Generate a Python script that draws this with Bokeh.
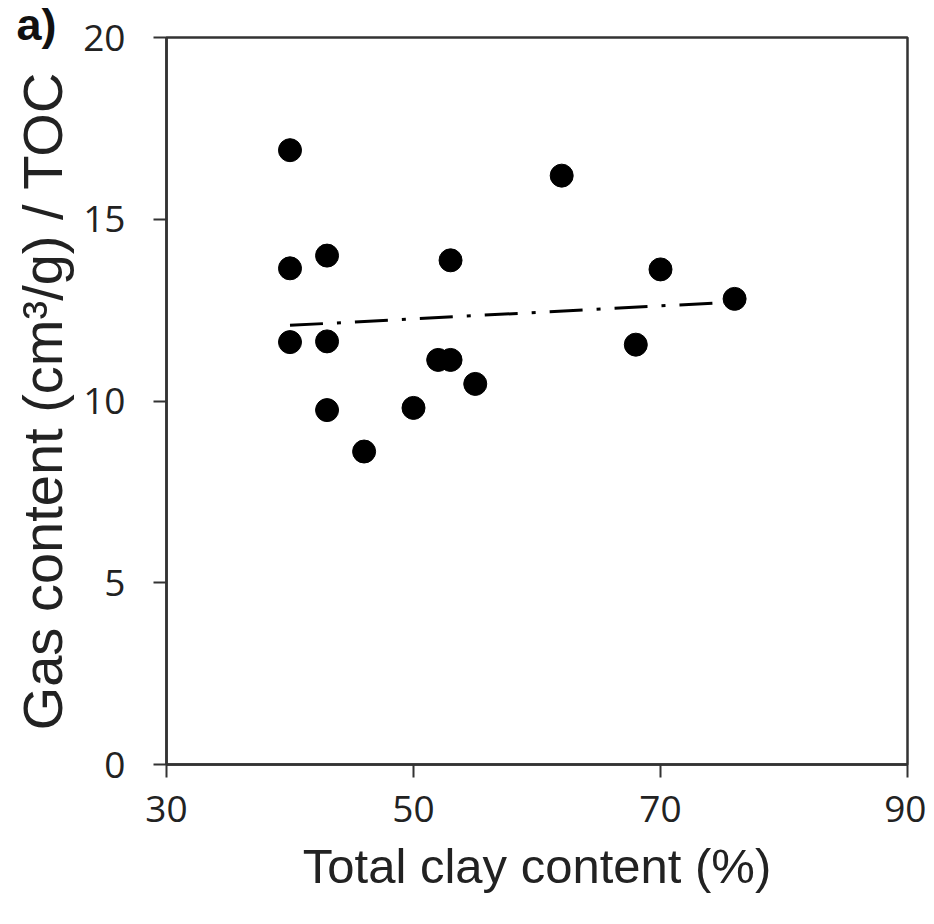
import numpy as np
from bokeh.plotting import figure
from bokeh.models import FixedTicker, Range1d, Title
from bokeh.embed import file_html
from bokeh.resources import INLINE

# Data
clay = [40, 62, 43, 40, 53, 70, 76, 40, 43, 68, 52, 53, 55, 43, 50, 46]
gas_toc = [16.9, 16.2, 14.0, 13.65, 13.87, 13.62, 12.81, 11.62, 11.64, 11.55,
           11.13, 11.13, 10.47, 9.75, 9.81, 8.61]
x_ticks = [30, 50, 70, 90]
y_ticks = [0, 5, 10, 15, 20]

# Linear trend from the data
slope, intercept = np.polyfit(clay, gas_toc, 1)
trend_x = [min(clay), max(clay)]
trend_y = [slope * v + intercept for v in trend_x]

p = figure(width=926, height=916, output_backend="svg", toolbar_location=None,
           x_range=Range1d(30, 90), y_range=Range1d(0, 20),
           min_border_left=166, min_border_right=19, min_border_top=37,
           min_border_bottom=152)

p.xgrid.visible = False
p.ygrid.visible = False
p.outline_line_color = "#333333"
p.outline_line_width = 2.5
p.outline_line_alpha = 1.0

tick_font = "Open Sans"
label_font = "Liberation Sans"
axcol = "#333333"

p.xaxis.ticker = FixedTicker(ticks=x_ticks)
p.yaxis.ticker = FixedTicker(ticks=y_ticks)
for ax in (p.xaxis[0], p.yaxis[0]):
    ax.axis_line_color = axcol
    ax.axis_line_width = 2.5
    ax.major_tick_line_color = axcol
    ax.major_tick_line_width = 2
    ax.major_tick_out = 13
    ax.major_tick_in = 0
    ax.minor_tick_line_color = None
    ax.major_label_text_font = tick_font
    ax.major_label_text_font_size = "37px"
    ax.major_label_text_color = "#222222"
    ax.axis_label_text_font = label_font
    ax.axis_label_text_font_style = "normal"
    ax.axis_label_text_color = "#222222"

p.xaxis.axis_label = "Total clay content (%)"
p.xaxis.axis_label_text_font_size = "49px"
p.xaxis.major_label_standoff = 18
p.xaxis.axis_label_standoff = 14

p.yaxis.axis_label = "Gas content (cm³/g) / TOC"
p.yaxis.axis_label_text_font_size = "56px"
p.yaxis.major_label_standoff = 28
p.yaxis.axis_label_standoff = 6

p.line(trend_x, trend_y, line_color="black", line_width=3, line_dash="33 14 4 14")
p.scatter(clay, gas_toc, size=23, fill_color="black", line_color="black")

panel_title = Title(text="a)", align="left", offset=-150, standoff=-24,
                    text_font=label_font, text_font_style="bold",
                    text_font_size="45px", text_color="#111111")
p.add_layout(panel_title, "above")

open("out.html", "w").write(file_html(p, INLINE))
